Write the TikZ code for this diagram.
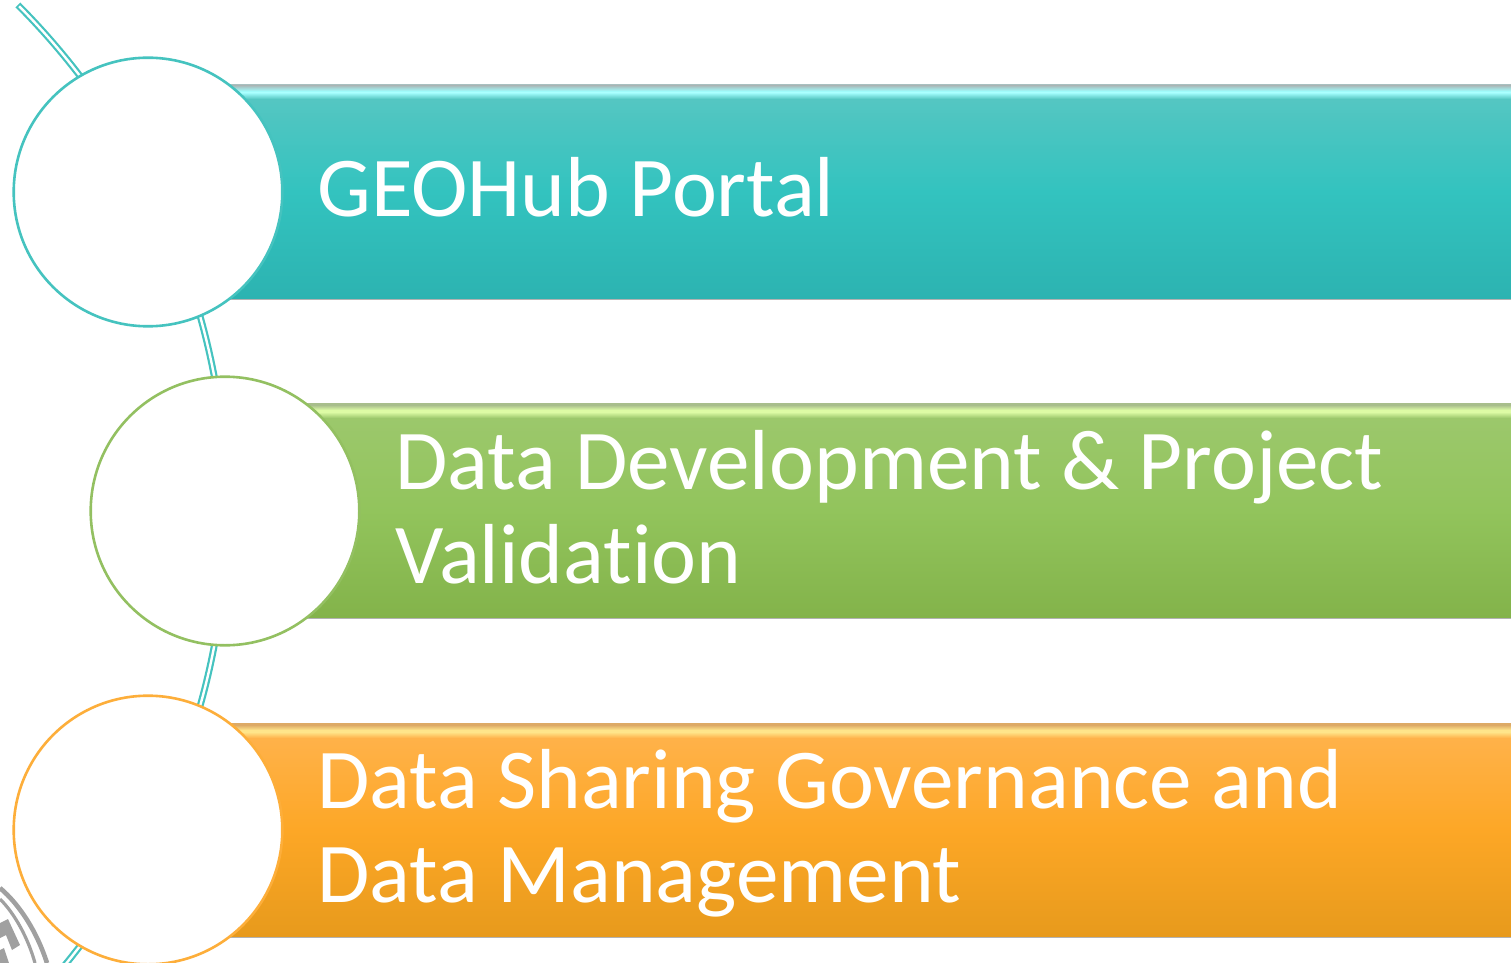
\documentclass[tikz,border=0pt]{standalone}
\usepackage{fontspec}
\setmainfont[Ligatures=NoCommon]{Carlito}
\definecolor{tealA}{HTML}{45C3BF}
\definecolor{greenA}{HTML}{93C061}
\definecolor{orangeA}{HTML}{FDAE3A}
\definecolor{sealgray}{HTML}{A0A0A0}
\definecolor{tealHair}{HTML}{A8C0C0}
\definecolor{tealGloss}{HTML}{A0FBFB}
\definecolor{tealTop}{HTML}{55C6C2}
\definecolor{tealMid}{HTML}{33C3BF}
\definecolor{tealBot}{HTML}{2CB3B1}
\definecolor{greenHair}{HTML}{A8BE8C}
\definecolor{greenGloss}{HTML}{DDFBA5}
\definecolor{greenTop}{HTML}{9CC86C}
\definecolor{greenMid}{HTML}{92C45C}
\definecolor{greenBot}{HTML}{83B34A}
\definecolor{orangeHair}{HTML}{DDAA66}
\definecolor{orangeGloss}{HTML}{FFE58A}
\definecolor{orangeTop}{HTML}{FFB24A}
\definecolor{orangeMid}{HTML}{FDA726}
\definecolor{orangeBot}{HTML}{E79A1C}
\tikzset{
  x=0.5pt,y=-0.5pt,
  circ/.style={circle,fill=white,line width=1.3pt,minimum size=134.3pt,inner sep=0pt,outer sep=0pt},
  label/.style={anchor=base west,text=white,inner sep=0pt,font=\fontsize{42.6pt}{46.7pt}\selectfont},
}
\newcommand{\glossbar}[7]{% top, bottom, hair, gloss, c1, c2, c3
  \shade[top color=#5,bottom color=#6] (228,#1+12) rectangle (1511,#1+107);
  \shade[top color=#6,bottom color=#7] (228,#1+106) rectangle (1511,#2);
  \fill[#3] (228,#1-1) rectangle (1511,#1+1);
  \shade[top color=#3,bottom color=#4] (228,#1+1) rectangle (1511,#1+6);
  \fill[#4] (228,#1+6) rectangle (1511,#1+8);
  \shade[top color=#4,bottom color=#5] (228,#1+8) rectangle (1511,#1+14);
  \fill[gray!60] (228,#2) rectangle (1511,#2+1);
}
\begin{document}
\begin{tikzpicture}
\useasboundingbox (0,0) rectangle (1511,963);
\fill[white] (0,0) rectangle (1511,963);
% seal fragment
\begin{scope}
\clip (0,870) rectangle (80,963);
\draw[sealgray,line width=2.3pt] (0,888) .. controls (20,905) and (37,932) .. (47,963);
\draw[sealgray,line width=1.6pt] (0,899) .. controls (15,914) and (28,938) .. (35,963);
\fill[sealgray] (0,923) -- (8,919) -- (20,945) -- (12,950) -- (6,935) -- (0,938) -- cycle;
\fill[sealgray] (0,950) -- (4,948) -- (9,963) -- (0,963) -- cycle;
\end{scope}
% swoosh
\begin{scope}
\clip (0,0) rectangle (1511,963);
\draw[tealA,line width=3.4pt] (-490,511) ++(-44.9:717) arc[start angle=-44.9,end angle=42,radius=717];
\draw[white,line width=1.2pt] (-490,511) ++(-44.75:717) arc[start angle=-44.75,end angle=42,radius=717];
\end{scope}
% bars
\glossbar{85}{299}{tealHair}{tealGloss}{tealTop}{tealMid}{tealBot}
\glossbar{404}{618}{greenHair}{greenGloss}{greenTop}{greenMid}{greenBot}
\glossbar{724}{937}{orangeHair}{orangeGloss}{orangeTop}{orangeMid}{orangeBot}
% circles
\node[circ,draw=tealA] (c1) at (148,192) {};
\node[circ,draw=greenA] (c2) at (225,511) {};
\node[circ,draw=orangeA] (c3) at (148,830) {};
% labels
\node[label] (t1) at (317,216) {GEOHub Portal};
\node[label] (t2a) at (395,489) {Data Development \& Project};
\node[label] (t2b) at (395,583) {Validation};
\node[label] (t3a) at (317,808) {Data Sharing Governance and};
\node[label] (t3b) at (317,902) {Data Management};
\end{tikzpicture}
\end{document}
